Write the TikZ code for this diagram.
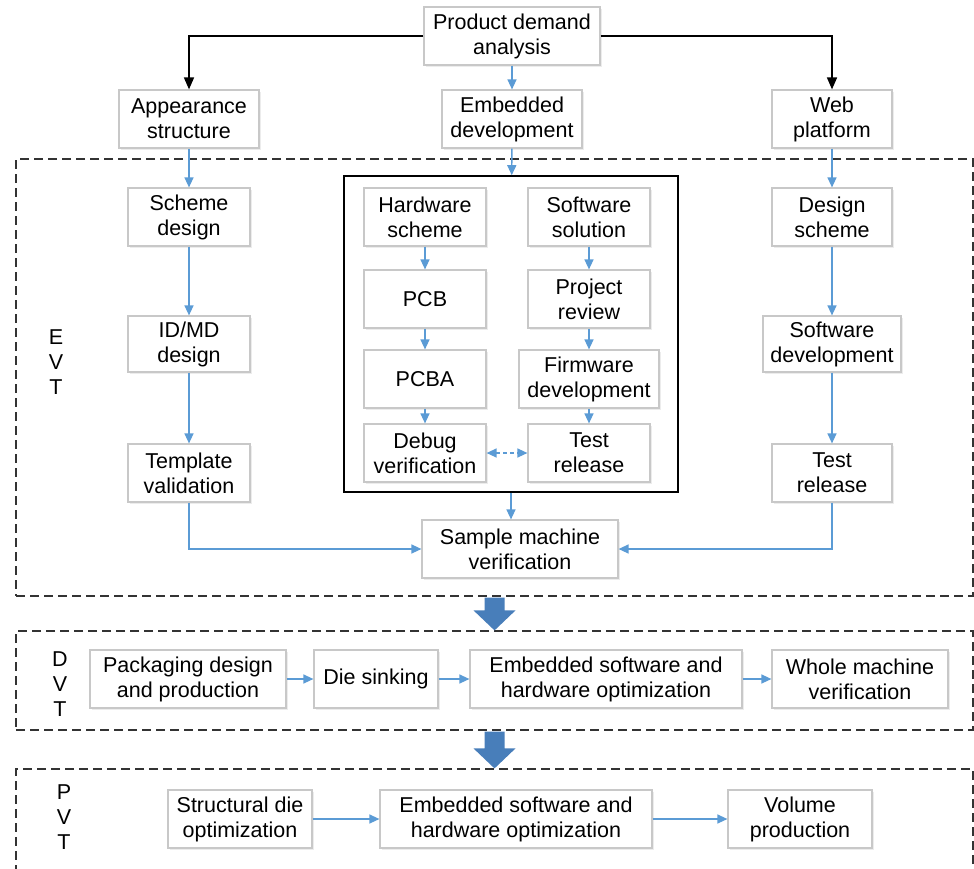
\documentclass[tikz,border=0pt]{standalone}
\usepackage{fontspec}
\setmainfont{Liberation Sans}
\usetikzlibrary{arrows.meta,calc,shadows}
\definecolor{flowblue}{RGB}{91,155,213}
\definecolor{phaseblue}{RGB}{72,126,186}
\definecolor{boxgray}{RGB}{200,200,200}

\begin{document}
\begin{tikzpicture}[x=0.5pt,y=-0.5pt]
\tikzstyle{box} = [draw=boxgray, line width=0.6pt, fill=white, align=center, minimum height=29pt, inner sep=2pt, font=\fontsize{10.75}{12.5}\selectfont, drop shadow={shadow xshift=0.8pt, shadow yshift=-0.8pt, fill=black!12, opacity=0.6}]
\tikzstyle{flow} = [draw=flowblue, line width=0.7pt, -{Triangle[width=4.5pt,length=5pt]}]
\tikzstyle{lead} = [draw=black, line width=0.8pt, -{Triangle[width=5pt,length=6pt]}]
\tikzstyle{phase} = [draw=black!80, line width=0.6pt, dash pattern=on 4.5pt off 2.5pt, minimum width=478.5pt]
\tikzstyle{bigarrow} = [fill=phaseblue]
\tikzstyle{tag} = [align=center, font=\fontsize{10.75}{12.5}\selectfont]
\useasboundingbox (0,0) rectangle (974,868);

% phase frames
\node [phase, minimum height=218.5pt] (evt) at (494.5,377.5) {};
\node [phase, minimum height=49.5pt] (dvt) at (494.5,680.5) {};
\node [phase, minimum height=52pt] (pvt) at (494.5,821) {};
\node [tag] (evtl) at (56,362) {E\\V\\T};
\node [tag] (dvtl) at (60,684) {D\\V\\T};
\node [tag] (pvtl) at (64,817) {P\\V\\T};

% top row
\node [box, minimum width=88pt] (pda) at (512,36) {Product demand\\analysis};
\node [box, minimum width=70pt] (app) at (189,119) {Appearance\\structure};
\node [box, minimum width=70pt] (emb) at (512,119) {Embedded\\development};
\node [box, minimum width=60pt] (web) at (832,119) {Web\\platform};

% EVT
\node [box, minimum width=61pt] (sch) at (189,217) {Scheme\\design};
\node [box, minimum width=61pt, minimum height=28pt] (idmd) at (189,344) {ID/MD\\design};
\node [box, minimum width=61pt] (tmpl) at (189,473) {Template\\validation};
\node [draw, line width=0.8pt, minimum width=167pt, minimum height=158pt] (dev) at (511,334) {};
\node [box, minimum width=61pt] (hw) at (425,217) {Hardware\\scheme};
\node [box, minimum width=61pt] (pcb) at (425,299) {PCB};
\node [box, minimum width=61pt] (pcba) at (425,379) {PCBA};
\node [box, minimum width=61pt] (dbg) at (425,453) {Debug\\verification};
\node [box, minimum width=61pt] (sw) at (589,217) {Software\\solution};
\node [box, minimum width=61pt] (prj) at (589,299) {Project\\review};
\node [box, minimum width=70pt] (fw) at (589,379) {Firmware\\development};
\node [box, minimum width=61pt] (tst) at (589,453) {Test\\release};
\node [box, minimum width=98pt] (smv) at (520,549) {Sample machine\\verification};
\node [box, minimum width=60pt] (des) at (832,217) {Design\\scheme};
\node [box, minimum width=69pt, minimum height=28pt] (swd) at (832,344) {Software\\development};
\node [box, minimum width=60pt] (trel) at (832,473) {Test\\release};

% DVT
\node [box, minimum width=98pt] (pkg) at (188,679) {Packaging design\\and production};
\node [box, minimum width=62pt] (die) at (376,679) {Die sinking};
\node [box, minimum width=136pt] (eso1) at (606,679) {Embedded software and\\hardware optimization};
\node [box, minimum width=88pt] (whm) at (860,679) {Whole machine\\verification};

% PVT
\node [box, minimum width=72pt] (str) at (240,819) {Structural die\\optimization};
\node [box, minimum width=136pt] (eso2) at (516,819) {Embedded software and\\hardware optimization};
\node [box, minimum width=72pt] (vol) at (800,819) {Volume\\production};

% connectors
\draw [lead] (pda.west) -| (app.north);
\draw [lead] (pda.east) -| (web.north);
\foreach \a/\b in {pda/emb, app/sch, emb/dev, web/des, sch/idmd, idmd/tmpl, hw/pcb, pcb/pcba, pcba/dbg, sw/prj, prj/fw, fw/tst, des/swd, swd/trel, pkg/die, die/eso1, eso1/whm, str/eso2, eso2/vol}
{
	\draw [flow] (\a) -- (\b);
}
\draw [flow, {Triangle[width=4.5pt,length=5pt]}-{Triangle[width=4.5pt,length=5pt]}, dash pattern=on 2pt off 1.5pt] (dbg) -- (tst);
\draw [flow] (dev.south) -- (dev.south |- smv.north);
\draw [flow] (tmpl.south) |- (smv.west);
\draw [flow] (trel.south) |- (smv.east);

% phase arrows
\foreach \a/\b in {evt/dvt, dvt/pvt}
{
	\fill [bigarrow] ($(\a.south)+(-10,1)$) -- ($(\a.south)+(10,1)$) -- ($(\b.north)+(10,-20)$) -- ($(\b.north)+(21,-20)$) -- (\b.north) -- ($(\b.north)+(-21,-20)$) -- ($(\b.north)+(-10,-20)$) -- cycle;
}
\end{tikzpicture}
\end{document}
